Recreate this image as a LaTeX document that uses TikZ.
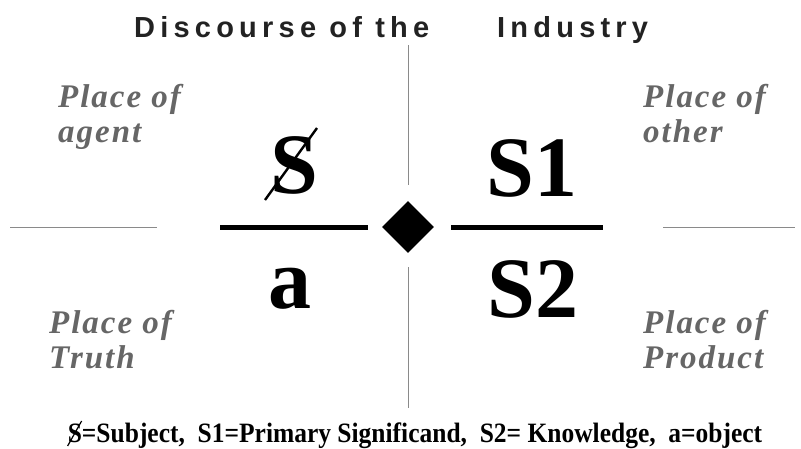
\documentclass[tikz,border=0pt]{standalone}
\usepackage{fontspec}
\setmainfont{Liberation Serif}
\setsansfont{Liberation Sans}
\usetikzlibrary{shapes.geometric,calc}
\definecolor{titlegray}{HTML}{222222}
\definecolor{placegray}{HTML}{666666}
\definecolor{rulegray}{HTML}{8A8A8A}

\begin{document}
\begin{tikzpicture}[x=1pt,y=-1pt,
  place/.style={font=\fontsize{33}{35}\selectfont\bfseries\itshape\addfontfeatures{LetterSpace=6},
    text=placegray,align=left,anchor=north west,inner sep=0pt},
  heading/.style={font=\fontsize{29}{29}\selectfont\sffamily\bfseries\addfontfeatures{LetterSpace=18},
    text=titlegray,anchor=base west,inner sep=0pt},
  mathem/.style={font=\fontsize{86}{86}\selectfont\bfseries,inner sep=0pt,anchor=base},
  thinrule/.style={rulegray,line width=1pt}]
  \useasboundingbox (0,0) rectangle (801,448);
  % title
  \node[heading] (title1) at (134,37) {Discourse of the};
  \node[heading] (title2) at (497,37) {Industry};
  % places
  \node[place] (agent) at (58,84) {Place of\\agent};
  \node[place] (other) at (643,84) {Place of\\other};
  \node[place] (truth) at (49,310) {Place of\\Truth};
  \node[place] (product) at (643,310) {Place of\\Product};
  % axes
  \node[diamond,fill=black,minimum width=52pt,minimum height=52pt,inner sep=0pt] (dia) at (408,227) {};
  \draw[thinrule] (408,45) -- (408,185);
  \draw[thinrule] (408,267) -- (408,408);
  \draw[thinrule] (10,227) -- (157,227);
  \draw[thinrule] (663,227) -- (795,227);
  \draw[line width=5pt] (220,227) -- (368,227);
  \draw[line width=5pt] (451,227) -- (603,227);
  % terms
  \node[mathem] (subj) at (294,193) {S};
  \draw[line width=2.4pt] ($(subj.base)+(-29,7)$) -- ($(subj.base)+(23,-65)$);
  \node[mathem] (s1) at (532,196) {S1};
  \node[mathem] (obj) at (290,308) {a};
  \node[mathem] (s2) at (533,317) {S2};
  % legend
  \node[font=\fontsize{28}{28}\selectfont\bfseries,anchor=base,inner sep=0pt] (legend) at (415,442)
    {\scalebox{0.91}[1]{S=Subject,\ \ S1=Primary Significand,\ \ S2= Knowledge,\ \ a=object}};
  \draw[line width=1.2pt] ($(legend.base west)+(0,4)$) -- ($(legend.base west)+(14,-21)$);
\end{tikzpicture}
\end{document}
